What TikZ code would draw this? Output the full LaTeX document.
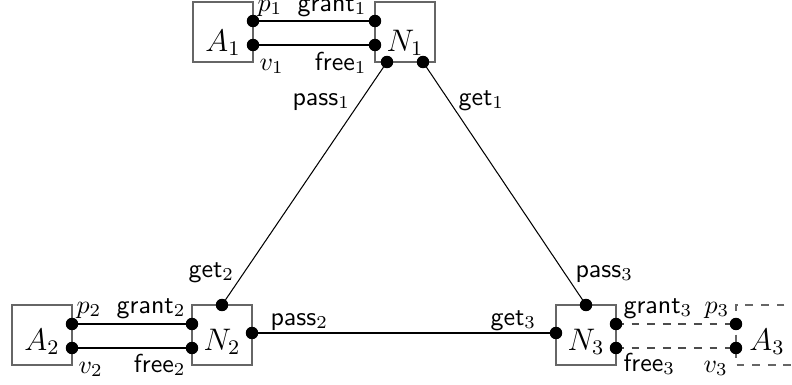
\documentclass[tikz,border=0pt]{standalone}
\usetikzlibrary{calc}
\begin{document}
\begin{tikzpicture}[x=0.385pt,y=-0.385pt,
  box/.style={draw=black!60,line width=0.4pt,minimum width=23.1pt,minimum height=23.1pt,inner sep=0pt},
  dbox/.style={draw=black!60,dashed,line width=0.4pt},
  lbl/.style={inner sep=0pt,anchor=base west},
  lble/.style={inner sep=0pt,anchor=base east},
  btxt/.style={inner sep=0pt,anchor=base,font=\large},
  conn/.style={draw=black,line width=0.4pt},
  dconn/.style={draw=black!70,dashed,line width=0.4pt},
  port/.style={fill=black}]
\useasboundingbox (0,0) rectangle (792,385);
\clip (0,0) rectangle (792,385);
% boxes
\node[box] (A1) at (223,32) {};
\node[box] (N1) at (405,32) {};
\node[box] (A2) at (42,335) {};
\node[box] (N2) at (222,335) {};
\node[box] (N3) at (586,335) {};
\draw[dbox] (800,305) -- (736,305) -- (736,365) -- (800,365);
% box texts
\node[btxt] (tA1) at (223,51) {$A_1$};
\node[btxt] (tN1) at (405,51) {$N_1$};
\node[btxt] (tA2) at (42,350) {$A_2$};
\node[btxt] (tN2) at (222,350) {$N_2$};
\node[btxt] (tN3) at (586,350) {$N_3$};
\node[btxt] (tA3) at (767,350) {$A_3$};
% ports
\coordinate (a1p) at (253,21);
\coordinate (a1v) at (253,45);
\coordinate (n1g) at (375,21);
\coordinate (n1f) at (375,45);
\coordinate (n1pass) at (387,62);
\coordinate (n1get) at (423,62);
\coordinate (a2p) at (72,324);
\coordinate (a2v) at (72,348);
\coordinate (n2g) at (192,324);
\coordinate (n2f) at (192,348);
\coordinate (n2get) at (222,305);
\coordinate (n2pass) at (252,333);
\coordinate (n3get) at (556,333);
\coordinate (n3pass) at (586,305);
\coordinate (n3g) at (616,324);
\coordinate (n3f) at (616,348);
\coordinate (a3p) at (736,324);
\coordinate (a3v) at (736,348);
% connectors
\draw[conn] (a1p) -- (n1g);
\draw[conn] (a1v) -- (n1f);
\draw[conn] (a2p) -- (n2g);
\draw[conn] (a2v) -- (n2f);
\draw[dconn] (n3g) -- (a3p);
\draw[dconn] (n3f) -- (a3v);
\draw[conn] (n1pass) -- (n2get);
\draw[conn] (n1get) -- (n3pass);
\draw[conn] (n2pass) -- (n3get);
% dots
\foreach \c in {a1p,a1v,n1g,n1f,n1pass,n1get,a2p,a2v,n2g,n2f,n2get,n2pass,n3get,n3pass,n3g,n3f,a3p,a3v}
  \fill[port] (\c) circle (2.4pt);
% labels
\node[lbl] (lp1) at (257,11) {$p_1$};
\node[lble] (lg1) at (367,11) {\textsf{grant}$_1$};
\node[lbl] (lv1) at (259,70) {$v_1$};
\node[lble] (lf1) at (367,70) {\textsf{free}$_1$};
\node[lbl] (lpass1) at (292,105) {\textsf{pass}$_1$};
\node[lbl] (lget1) at (458,105) {\textsf{get}$_1$};
\node[lbl] (lp2) at (76,313) {$p_2$};
\node[lble] (lg2) at (186,313) {\textsf{grant}$_2$};
\node[lbl] (lv2) at (78,373) {$v_2$};
\node[lble] (lf2) at (186,372) {\textsf{free}$_2$};
\node[lbl] (lget2) at (188,277) {\textsf{get}$_2$};
\node[lbl] (lpass2) at (270,325) {\textsf{pass}$_2$};
\node[lbl] (lget3) at (490,325) {\textsf{get}$_3$};
\node[lbl] (lpass3) at (575,277) {\textsf{pass}$_3$};
\node[lbl] (lg3) at (623,313) {\textsf{grant}$_3$};
\node[lbl] (lp3) at (704,313) {$p_3$};
\node[lbl] (lf3) at (623,371) {\textsf{free}$_3$};
\node[lbl] (lv3) at (703,372) {$v_3$};
\end{tikzpicture}
\end{document}
